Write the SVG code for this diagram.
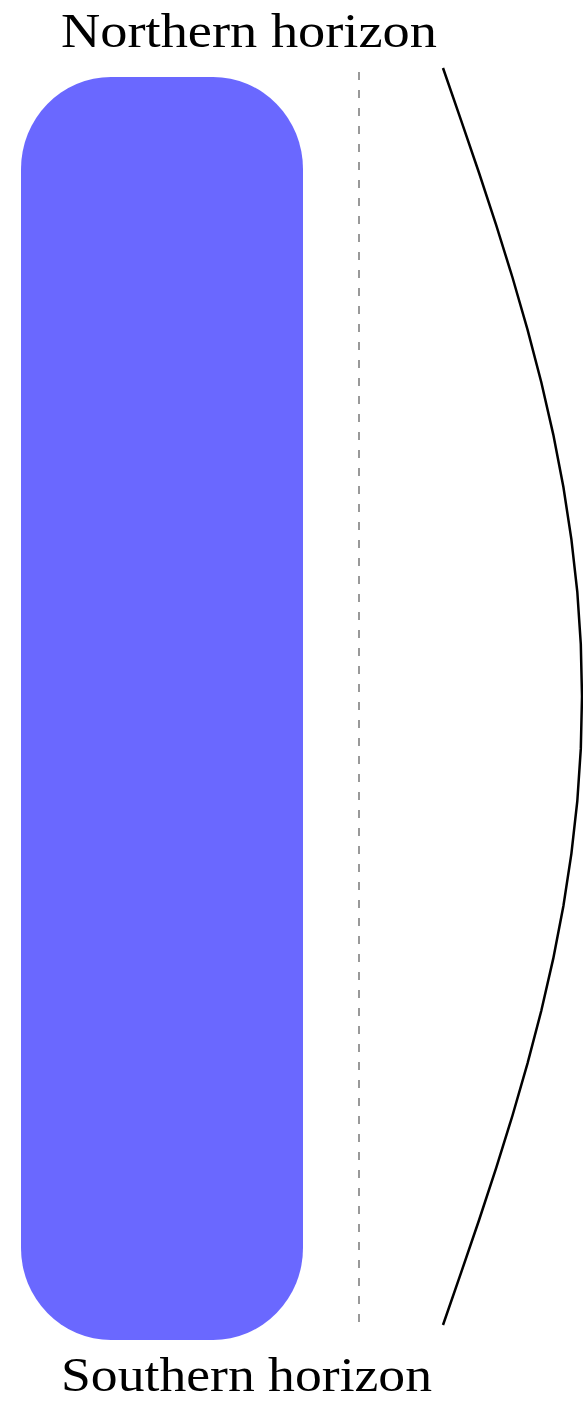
<svg xmlns="http://www.w3.org/2000/svg" width="583" height="1403" viewBox="0 0 583 1403">
<style>
.lbl{font-family:"Liberation Serif","DejaVu Serif",serif;font-size:48px;fill:#000}
.band{fill:#6a68ff}
.axis{stroke:#999;stroke-width:2;stroke-dasharray:8 10;fill:none}
.curve{stroke:#000;stroke-width:2.5;fill:none}
</style>
<rect width="583" height="1403" fill="#fff"/>
<g id="band"><rect class="band" x="21" y="77" width="282" height="1263" rx="90" ry="92"/></g>
<g id="connectors">
<line class="axis" x1="359" y1="72" x2="359" y2="1325"/>
<path class="curve" d="M443,68 L461.1,120.4 L479,172.75 L496.2,225.1 L512.5,277.5 L527.6,329.9 L541.3,382.25 L553.3,434.6 L563.4,487 L571.4,539.4 L577.3,591.75 L580.8,644.1 L582,696.5 L580.8,748.9 L577.3,801.25 L571.4,853.6 L563.4,906 L553.3,958.4 L541.3,1010.75 L527.6,1063.1 L512.5,1115.5 L496.2,1167.9 L479,1220.25 L461.1,1272.6 L443,1325"/>
</g>
<g id="north"><text class="lbl" x="61" y="47" textLength="376" lengthAdjust="spacingAndGlyphs">Northern horizon</text></g>
<g id="south"><text class="lbl" x="61" y="1391" textLength="371" lengthAdjust="spacingAndGlyphs">Southern horizon</text></g>
</svg>
